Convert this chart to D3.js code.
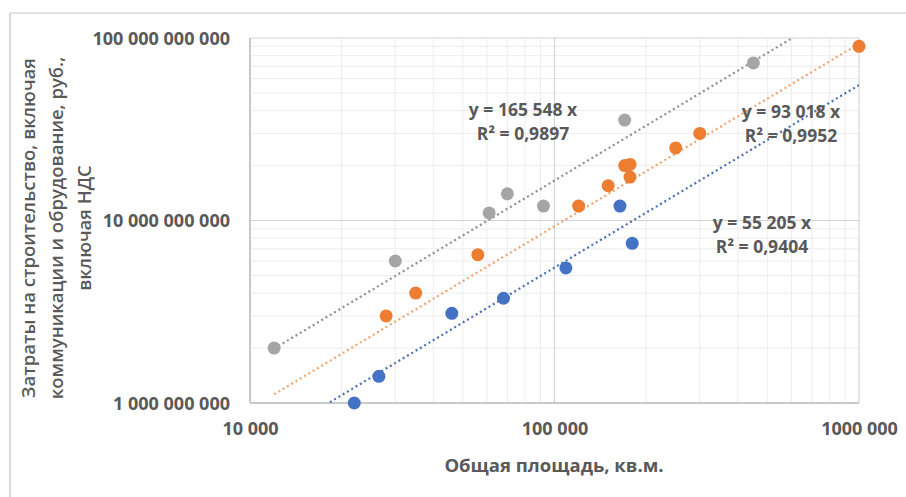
<!DOCTYPE html>
<html><head><meta charset="utf-8">
<script src="https://cdn.jsdelivr.net/npm/d3@7"></script>
<style>body{margin:0;background:#fff}svg{display:block}</style>
</head><body>
<svg id="c" width="906" height="497"></svg>
<script>
// ---- data ----
const xTickValues = [1e4, 1e5, 1e6];
const xTickLabels = ["10 000", "100 000", "1000 000"];
const yTickValues = [1e9, 1e10, 1e11];
const yTickLabels = ["1 000 000 000", "10 000 000 000", "100 000 000 000"];

const grayX = [12000, 30000, 61000, 70000, 92000, 170000, 450000];
const grayY = [2.0e9, 6.0e9, 11e9, 14e9, 12e9, 35.5e9, 73e9];
const orangeX = [28000, 35000, 56000, 120000, 150000, 170000, 177000, 177000, 250000, 300000, 1000000];
const orangeY = [3.0e9, 4.0e9, 6.5e9, 12e9, 15.5e9, 20e9, 20.3e9, 17.3e9, 25e9, 30e9, 90e9];
const blueX = [22000, 26500, 46000, 68000, 109000, 164000, 180000];
const blueY = [1.0e9, 1.4e9, 3.1e9, 3.75e9, 5.5e9, 12e9, 7.5e9];

const slopes = {gray: 165548, orange: 93018, blue: 55205};
const eqTexts = {
  gray: ["y = 165 548 x", "R² = 0,9897"],
  orange: ["y = 93 018 x", "R² = 0,9952"],
  blue: ["y = 55 205 x", "R² = 0,9404"]
};
const trendRange = [12000, 1000000];
const xTitle = "Общая площадь, кв.м.";
const yTitleLines = ["Затраты на строительство, включая", "коммуникации и обрудование, руб.,", "включая НДС"];

// ---- layout ----
const svg = d3.select("#c");
const L = 250, R = 859, T = 38, B = 403;
const x = d3.scaleLog().domain([1e4, 1e6]).range([L, R]);
const y = d3.scaleLog().domain([1e9, 1e11]).range([B, T]);
const txt = "#595959";
const font = "'Open Sans', 'Noto Sans', sans-serif";

// outer frame
svg.append("line").attr("x1", 10).attr("x2", 906).attr("y1", 13).attr("y2", 13).attr("stroke", "#d9d9d9").attr("stroke-width", 1.5);
svg.append("line").attr("x1", 10).attr("x2", 10).attr("y1", 13).attr("y2", 497).attr("stroke", "#d9d9d9").attr("stroke-width", 2);

// minor grid
const minorX = [], minorY = [];
[1e4, 1e5].forEach(d => { for (let k = 2; k <= 9; k++) minorX.push(d * k); });
[1e9, 1e10].forEach(d => { for (let k = 2; k <= 9; k++) minorY.push(d * k); });
const g = svg.append("g");
g.selectAll(".mx").data(minorX).join("line").attr("x1", d => x(d)).attr("x2", d => x(d)).attr("y1", T).attr("y2", B).attr("stroke", "#ededed").attr("stroke-width", 1);
g.selectAll(".my").data(minorY).join("line").attr("x1", L).attr("x2", R).attr("y1", d => y(d)).attr("y2", d => y(d)).attr("stroke", "#ededed").attr("stroke-width", 1);
// major grid
g.selectAll(".Mx").data(xTickValues).join("line").attr("x1", d => x(d)).attr("x2", d => x(d)).attr("y1", T).attr("y2", B).attr("stroke", "#d4d4d4").attr("stroke-width", 1.2);
g.selectAll(".My").data(yTickValues).join("line").attr("x1", L).attr("x2", R).attr("y1", d => y(d)).attr("y2", d => y(d)).attr("stroke", "#d4d4d4").attr("stroke-width", 1.2);
// axis lines
svg.append("line").attr("x1", L).attr("x2", L).attr("y1", T).attr("y2", B).attr("stroke", "#bfbfbf").attr("stroke-width", 1.5);
svg.append("line").attr("x1", L).attr("x2", R).attr("y1", B).attr("y2", B).attr("stroke", "#bfbfbf").attr("stroke-width", 1.5);

// tick labels via axes
const yAxis = d3.axisLeft(y).tickValues(yTickValues).tickFormat((d, i) => yTickLabels[i]).tickSize(0).tickPadding(20);
const ya = svg.append("g").attr("transform", `translate(${L},0)`).call(yAxis);
const xAxis = d3.axisBottom(x).tickValues(xTickValues).tickFormat((d, i) => xTickLabels[i]).tickSize(0).tickPadding(20);
const xa = svg.append("g").attr("transform", `translate(0,${B})`).call(xAxis);
[ya, xa].forEach(a => {
  a.select(".domain").remove();
  a.selectAll("text").attr("fill", txt).style("font-family", font).style("font-size", "18px").style("font-weight", 700);
});
ya.selectAll("text").attr("dy", "0.35em");
xa.selectAll("text").attr("dy", "0.65em");

// titles
svg.append("text").attr("x", 554).attr("y", 472).attr("text-anchor", "middle").attr("fill", txt)
  .style("font-family", font).style("font-size", "18.5px").style("font-weight", 700).text(xTitle);
const yt = svg.append("text").attr("transform", "translate(0,228) rotate(-90)").attr("text-anchor", "middle").attr("fill", txt)
  .style("font-family", font).style("font-size", "18.5px").style("font-weight", 600);
[35, 63, 91].forEach((px, i) => yt.append("tspan").attr("x", 0).attr("y", px).text(yTitleLines[i]));

// clip
svg.append("clipPath").attr("id", "pc").append("rect").attr("x", L).attr("y", T).attr("width", R - L).attr("height", B - T);

const series = [
  {key: "gray", xs: grayX, ys: grayY, color: "#a5a5a5", line: "#8e8e99"},
  {key: "orange", xs: orangeX, ys: orangeY, color: "#ed7d31", line: "#f0a36f"},
  {key: "blue", xs: blueX, ys: blueY, color: "#4472c4", line: "#4a6fb5"}
];

const plot = svg.append("g").attr("clip-path", "url(#pc)");
const lineGen = d3.line().x(d => x(d[0])).y(d => y(d[1]));
series.forEach(s => {
  plot.append("path").datum(trendRange.map(v => [v, v * slopes[s.key]])).attr("d", lineGen)
    .attr("fill", "none").attr("stroke", s.line).attr("stroke-width", 2.2).attr("stroke-dasharray", "2 3");
});
const pts = svg.append("g");
series.forEach(s => {
  pts.selectAll(null).data(s.xs.map((v, i) => [v, s.ys[i]])).join("circle")
    .attr("cx", d => x(d[0])).attr("cy", d => y(d[1])).attr("r", 6.5).attr("fill", s.color);
});

// equation labels
const eqPos = {gray: [523, 116], orange: [791, 118], blue: [762, 229]};
series.forEach(s => {
  const [cx, cy] = eqPos[s.key];
  const t = svg.append("text").attr("text-anchor", "middle").attr("fill", txt)
    .style("font-family", font).style("font-size", "17.5px").style("font-weight", 700);
  t.append("tspan").attr("x", cx).attr("y", cy).text(eqTexts[s.key][0]);
  t.append("tspan").attr("x", cx).attr("y", cy + 24).text(eqTexts[s.key][1]);
});
</script>
</body></html>
